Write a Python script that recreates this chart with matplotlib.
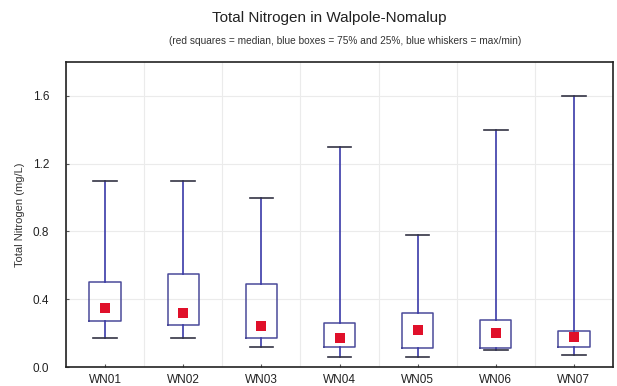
import matplotlib
matplotlib.use("Agg")
import matplotlib.pyplot as plt
import numpy as np

plt.rcParams['font.family'] = ['Liberation Sans', 'DejaVu Sans']

sites = ["WN01", "WN02", "WN03", "WN04", "WN05", "WN06", "WN07"]
minimum = [0.17, 0.17, 0.12, 0.06, 0.06, 0.10, 0.07]
q25 = [0.27, 0.25, 0.17, 0.12, 0.11, 0.11, 0.12]
median = [0.35, 0.32, 0.24, 0.17, 0.22, 0.20, 0.18]
q75 = [0.50, 0.55, 0.49, 0.26, 0.32, 0.28, 0.21]
maximum = [1.10, 1.10, 1.00, 1.30, 0.78, 1.40, 1.60]
yticks = [0.0, 0.4, 0.8, 1.2, 1.6]

fig = plt.figure(figsize=(6.17, 3.86), dpi=100)
ax = fig.add_axes([66/617, 1-367/386, (613-66)/617, (367-62)/386])

stats = []
for i, s in enumerate(sites):
    stats.append(dict(label=s, whislo=minimum[i], q1=q25[i], med=median[i],
                      q3=q75[i], whishi=maximum[i], fliers=[]))
pos = np.arange(len(sites))
ax.bxp(stats, positions=pos, widths=0.4, showfliers=False,
       boxprops=dict(color="#4a4a9a", linewidth=1.1),
       whiskerprops=dict(color="#3a3aa8", linewidth=1.2),
       capprops=dict(color="#333344", linewidth=1.2),
       medianprops=dict(linewidth=0), capwidths=0.3)
ax.scatter(pos, median, marker='s', s=60, color="#e0102a", zorder=5, linewidths=0)

ax.set_xlim(-0.5, len(sites) - 0.5)
ax.set_ylim(0, 1.8)
ax.set_yticks(yticks)
ax.set_yticklabels([f"{v:.1f}" for v in yticks])
ax.set_xticks(pos)
ax.set_xticklabels(sites)
ax.set_xticks(np.arange(len(sites)+1) - 0.5, minor=True)
ax.grid(True, which='major', axis='y', color="#ebebeb", linewidth=0.8)
ax.grid(True, which='minor', axis='x', color="#ebebeb", linewidth=0.8)
ax.set_axisbelow(True)
ax.tick_params(axis='both', which='major', labelsize=8.5, color="#555555", length=2,
               direction='in', labelcolor="#222222")
ax.tick_params(axis='y', which='major', pad=12)
ax.tick_params(axis='x', which='major', pad=5)
ax.tick_params(axis='x', which='minor', length=0)
for sp in ax.spines.values():
    sp.set_color("#222222")
    sp.set_linewidth(1.2)
ax.set_ylabel("Total Nitrogen (mg/L)", fontsize=8, color="#333333")
ax.yaxis.set_label_coords(-0.075, 0.5)

fig.text(0.533, 0.953, "Total Nitrogen in Walpole-Nomalup", ha='center', va='center', fontsize=11, color="#222222")
fig.text(0.56, 0.894, "(red squares = median, blue boxes = 75% and 25%, blue whiskers = max/min)",
         ha='center', va='center', fontsize=7.3, color="#333333")

fig.savefig("out.png", dpi=100)
